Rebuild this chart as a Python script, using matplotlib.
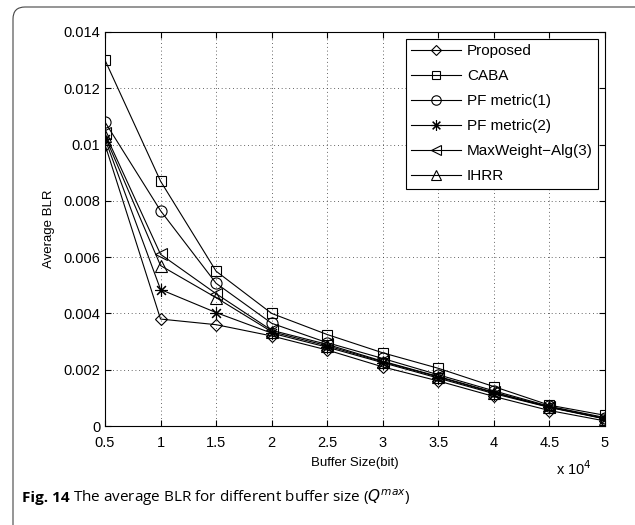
import numpy as np
import matplotlib.pyplot as plt
from matplotlib.patches import FancyBboxPatch

# data
buffer_size = [5000, 10000, 15000, 20000, 25000, 30000, 35000, 40000, 45000, 50000]
proposed = [0.0100, 0.0038, 0.0036, 0.0032, 0.0027, 0.0021, 0.0016, 0.00105, 0.00055, 0.00018]
caba = [0.0130, 0.0087, 0.0055, 0.0040, 0.00325, 0.0026, 0.00205, 0.0014, 0.00074, 0.00038]
pf_metric1 = [0.0108, 0.00765, 0.00507, 0.00365, 0.00296, 0.0024, 0.00182, 0.00125, 0.0007, 0.0003]
pf_metric2 = [0.0102, 0.00485, 0.00403, 0.0033, 0.0028, 0.00225, 0.0017, 0.00115, 0.00066, 0.00025]
maxweight = [0.0104, 0.0061, 0.0047, 0.0034, 0.0029, 0.0023, 0.00176, 0.0012, 0.00068, 0.00027]
ihrr = [0.0103, 0.0057, 0.00456, 0.00335, 0.00285, 0.00228, 0.00174, 0.00118, 0.00067, 0.00026]

labels = ["Proposed", "CABA", "PF metric(1)", "PF metric(2)", "MaxWeight\u2212Alg(3)", "IHRR"]
markers = ["D", "s", "o", (8, 2, 0), "<", "^"]
sizes = [6, 7, 8, 9, 8, 8]
series = [proposed, caba, pf_metric1, pf_metric2, maxweight, ihrr]

xticks = [5000, 10000, 15000, 20000, 25000, 30000, 35000, 40000, 45000, 50000]
xticklabels = ["0.5", "1", "1.5", "2", "2.5", "3", "3.5", "4", "4.5", "5"]
yticks = [0, 0.002, 0.004, 0.006, 0.008, 0.01, 0.012, 0.014]
yticklabels = ["0", "0.002", "0.004", "0.006", "0.008", "0.01", "0.012", "0.014"]

plt.rcParams['font.family'] = ['Liberation Sans', 'DejaVu Sans']

fig = plt.figure(figsize=(6.35, 5.25), dpi=100)
ax = fig.add_axes([105 / 635, 99 / 525, 500 / 635, 394 / 525])

for y, lab, m, ms in zip(series, labels, markers, sizes):
    ax.plot(buffer_size, y, color="black", lw=0.8, marker=m, ms=ms,
            mfc="none", mec="black", mew=0.8, label=lab)

ax.set_xlim(5000, 50000)
ax.set_ylim(0, 0.014)
ax.set_xticks(xticks)
ax.set_xticklabels(xticklabels)
ax.set_yticks(yticks)
ax.set_yticklabels(yticklabels)
ax.tick_params(direction="in", top=True, right=True, labelsize=10.5, length=4, width=0.8)
ax.tick_params(axis="x", pad=7)
ax.grid(True, linestyle=(0, (1, 3.5)), color="#333333", lw=0.6)
for s in ax.spines.values():
    s.set_linewidth(0.8)

ax.set_xlabel("Buffer Size(bit)", fontsize=9.5, labelpad=5)
ax.set_ylabel("Average BLR", fontsize=9.5, labelpad=6)
ax.text(0.974, -0.085, r"x 10$^{4}$", transform=ax.transAxes, ha="right", va="top", fontsize=10.5)

leg = ax.legend(loc="upper right", bbox_to_anchor=(0.986, 0.982), fontsize=11,
                fancybox=False, framealpha=1, edgecolor="black", borderpad=0.35,
                labelspacing=0.72, handlelength=3.3, handletextpad=0.35, borderaxespad=0,
                markerscale=0.85)
leg.get_frame().set_linewidth(0.8)

# rounded panel border
box = FancyBboxPatch((13 / 100, -0.15), 6.4, 5.25 - 7 / 100 + 0.15,
                     boxstyle="round,pad=0,rounding_size=0.12",
                     transform=fig.dpi_scale_trans, fill=False, ec="#444444", lw=0.8)
fig.patches.append(box)

# caption
t1 = fig.text(22 / 635, 1 - 498 / 525, "Fig. 14", fontsize=11, fontweight="bold",
              family="Open Sans", va="center")
fig.canvas.draw()
bb = t1.get_window_extent()
fig.text(bb.x1 / fig.bbox.width + 0.006, 1 - 498 / 525,
         r"The average BLR for different buffer size ($Q^{max}$)",
         fontsize=11, family="Open Sans", va="center")

fig.savefig("out.png", dpi=100)
